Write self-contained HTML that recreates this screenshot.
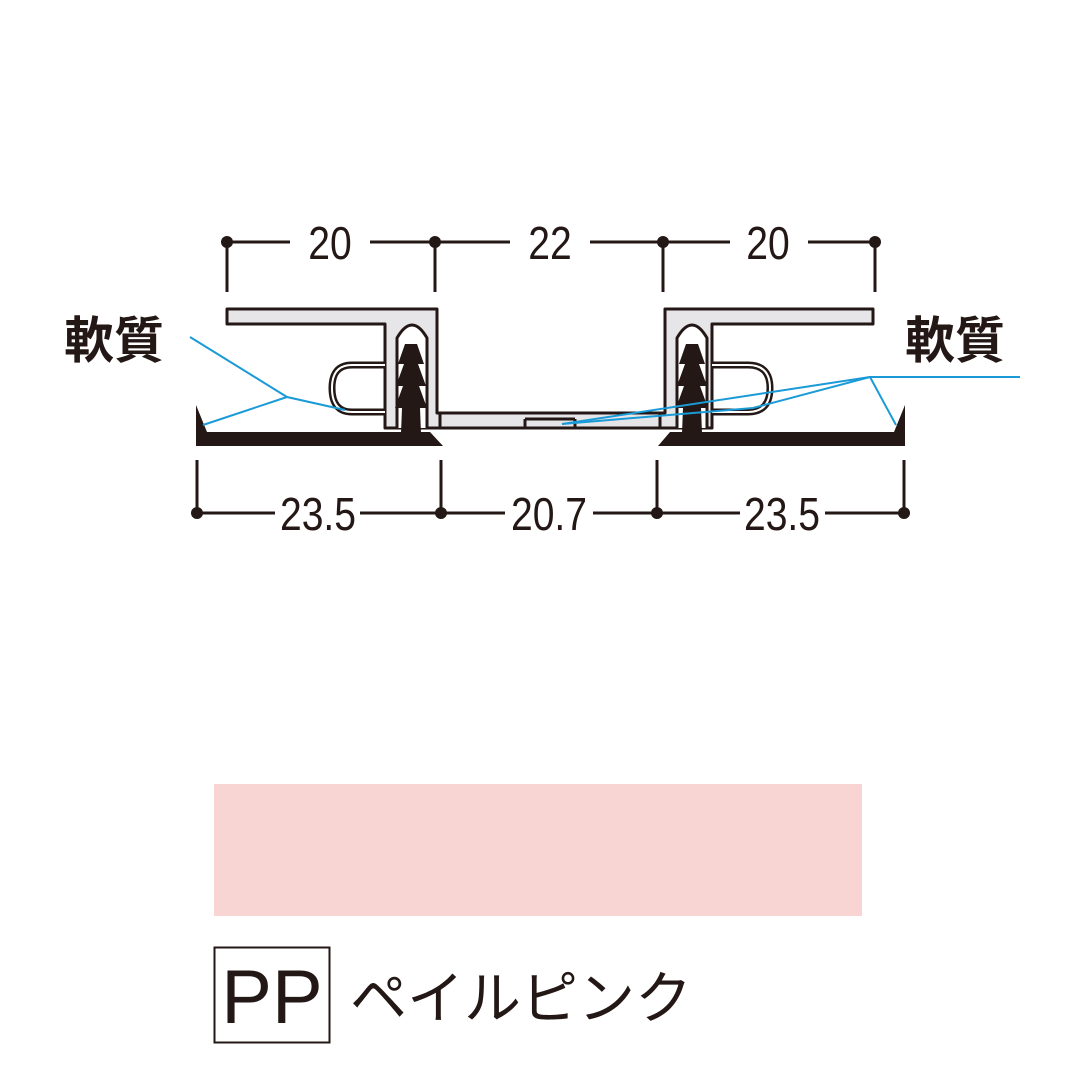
<!DOCTYPE html>
<html><head><meta charset="utf-8"><style>
html,body{margin:0;padding:0;background:#fff;}
svg{display:block;}
</style></head><body>
<svg width="1080" height="1080" viewBox="0 0 1080 1080" xmlns="http://www.w3.org/2000/svg">
<g stroke="#231815" stroke-width="3" fill="none">
  <line x1="227" y1="242" x2="290" y2="242"/><line x1="370" y1="242" x2="435" y2="242"/>
  <line x1="435" y1="242" x2="510" y2="242"/><line x1="590" y1="242" x2="663" y2="242"/>
  <line x1="663" y1="242" x2="730" y2="242"/><line x1="808" y1="242" x2="875" y2="242"/>
  <line x1="227" y1="242" x2="227" y2="292"/><line x1="435" y1="242" x2="435" y2="292"/>
  <line x1="663" y1="242" x2="663" y2="292"/><line x1="875" y1="242" x2="875" y2="292"/>
  <line x1="197" y1="513" x2="275" y2="513"/><line x1="360" y1="513" x2="441" y2="513"/>
  <line x1="441" y1="513" x2="505" y2="513"/><line x1="593" y1="513" x2="657" y2="513"/>
  <line x1="657" y1="513" x2="740" y2="513"/><line x1="825" y1="513" x2="904" y2="513"/>
  <line x1="197" y1="460" x2="197" y2="513"/><line x1="441" y1="460" x2="441" y2="513"/>
  <line x1="657" y1="460" x2="657" y2="513"/><line x1="904" y1="460" x2="904" y2="513"/>
</g>
<g fill="#231815">
  <circle cx="227" cy="242" r="6"/><circle cx="435" cy="242" r="6"/><circle cx="663" cy="242" r="6"/><circle cx="875" cy="242" r="6"/>
  <circle cx="197" cy="513" r="6"/><circle cx="441" cy="513" r="6"/><circle cx="657" cy="513" r="6"/><circle cx="904" cy="513" r="6"/>
</g>
<g font-family="Liberation Sans, sans-serif" font-size="46" fill="#231815" text-anchor="middle">
  <text x="330" y="259" transform="translate(330 0) scale(0.85 1) translate(-330 0)">20</text>
  <text x="550" y="259" transform="translate(550 0) scale(0.85 1) translate(-550 0)">22</text>
  <text x="768" y="259" transform="translate(768 0) scale(0.85 1) translate(-768 0)">20</text>
  <text x="318" y="530" transform="translate(318 0) scale(0.85 1) translate(-318 0)">23.5</text>
  <text x="549" y="530" transform="translate(549 0) scale(0.85 1) translate(-549 0)">20.7</text>
  <text x="782" y="530" transform="translate(782 0) scale(0.85 1) translate(-782 0)">23.5</text>
</g>
<g font-family="Liberation Sans, 'Noto Sans CJK JP', sans-serif" font-size="50" font-weight="bold" fill="#231815">
  <text x="64" y="358">軟質</text>
  <text x="905" y="358">軟質</text>
</g>
<g stroke="#231815" stroke-width="3" stroke-linejoin="round">
  <path d="M437 413 L665 413 L665 428 L437 428 Z" fill="#e6e6e8"/>
  <line x1="525" y1="419" x2="525" y2="428"/><line x1="575" y1="419" x2="575" y2="428"/>
  <line x1="525" y1="419" x2="575" y2="419"/>
  <path d="M227 309 L437 309 L437 413 L440 413 L440 428 L385 428 L385 324 L227 324 Z" fill="#e6e6e8"/>
  <path d="M397 428 L397 338 Q412 312 427 338 L427 428" fill="#fff"/>
  <path d="M385 365 L352 365 Q332 365 332 388 Q332 412 352 412 L385 412" fill="none" stroke-width="7"/>
  <path d="M385 365 L352 365 Q332 365 332 388 Q332 412 352 412 L385 412" fill="none" stroke="#fff" stroke-width="2"/>
  <path d="M873 309 L665 309 L665 413 L660 413 L660 428 L712 428 L712 324 L873 324 Z" fill="#e6e6e8"/>
  <path d="M677 428 L677 338 Q692 312 707 338 L707 428" fill="#fff"/>
  <path d="M712 365 L748 365 Q770 365 770 388 Q770 412 748 412 L712 412" fill="none" stroke-width="7"/>
  <path d="M712 365 L748 365 Q770 365 770 388 Q770 412 748 412 L712 412" fill="none" stroke="#fff" stroke-width="2"/>
</g>
<g fill="#231815">
  <path d="M405 344 L417 344 L424 364 L418 364 L426 386 L419 386 L427 408 L420 408 L421 433 L401 433 L402 408 L395 408 L403 386 L396 386 L404 364 L398 364 Z"/>
  <path d="M686 344 L698 344 L705 364 L699 364 L707 386 L700 386 L708 408 L701 408 L702 433 L682 433 L683 408 L676 408 L684 386 L677 386 L685 364 L679 364 Z"/>
  <path d="M196 433 L196 405 L207 432 L430 432 L443 446 L196 446 Z"/>
  <path d="M905 433 L905 405 L894 432 L670 432 L658 446 L905 446 Z"/>
</g>
<g stroke="#1a9ad6" stroke-width="2" fill="none">
  <polyline points="190,337 287,397 345,410"/>
  <line x1="287" y1="397" x2="203" y2="425"/>
  <polyline points="1020,377 870,377 562,424"/>
  <polyline points="870,377 753,408 562,424"/>
  <line x1="870" y1="377" x2="896" y2="425"/>
</g>
<rect x="214" y="784" width="648" height="132" fill="#f8d4d2"/>
<rect x="214.5" y="947.5" width="115" height="95" fill="none" stroke="#231815" stroke-width="2"/>
<text x="272" y="1023" font-family="Liberation Sans, sans-serif" font-size="76" fill="#231815" text-anchor="middle">PP</text>
<text x="350" y="1018" font-family="Liberation Sans, 'Noto Sans CJK JP', sans-serif" font-size="57" fill="#231815" textLength="342">ペイルピンク</text>
</svg>
</body></html>
